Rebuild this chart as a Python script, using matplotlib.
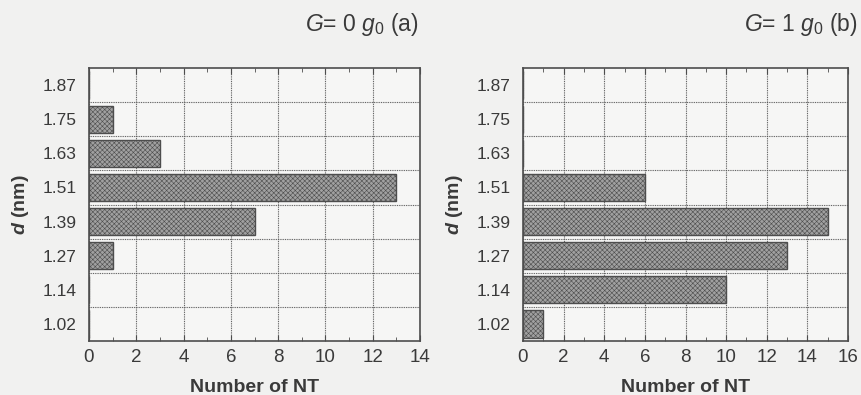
import numpy as np
import matplotlib
matplotlib.use("Agg")
import matplotlib.pyplot as plt
from matplotlib.ticker import MultipleLocator, FixedLocator

plt.rcParams["font.family"] = ["Liberation Sans", "DejaVu Sans"]
plt.rcParams["mathtext.fontset"] = "custom"
plt.rcParams["mathtext.rm"] = "Liberation Sans"
plt.rcParams["mathtext.it"] = "Liberation Sans:italic"
plt.rcParams["mathtext.bf"] = "Liberation Sans:bold:italic"
plt.rcParams["hatch.linewidth"] = 0.4
plt.rcParams["hatch.color"] = "#959595"

# diameter classes (nm), bottom to top
diameters = ["1.02", "1.14", "1.27", "1.39", "1.51", "1.63", "1.75", "1.87"]
count_0g = [0, 0, 1, 7, 13, 3, 1, 0]
count_1g = [1, 10, 13, 15, 6, 0, 0, 0]

titles = [r"$G$= 0 $g_0$ (a)", r"$G$= 1 $g_0$ (b)"]
x_max = [14, 16]

BG = "#f1f1f0"
EDGE = "#4d4d4d"
TXT = "#3a3a3a"

fig = plt.figure(figsize=(8.61, 3.95), dpi=100, facecolor=BG)
ax_a = fig.add_axes([89 / 861, 1 - 341 / 395, 331 / 861, 273 / 395])
ax_b = fig.add_axes([523 / 861, 1 - 341 / 395, 325 / 861, 273 / 395])

for ax, counts, title, xm, title_x in zip(
    [ax_a, ax_b], [count_0g, count_1g], titles, x_max, [419 / 861, 858 / 861]
):
    ax.set_facecolor("#f6f6f5")
    y = np.arange(len(diameters))
    ax.barh(y, counts, height=0.8, color="#a0a0a0", edgecolor=EDGE,
            linewidth=1.0, hatch="xxxxxxx", zorder=3)

    ax.set_xlim(0, xm)
    ax.set_ylim(-0.5, len(diameters) - 0.5)
    ax.xaxis.set_major_locator(MultipleLocator(2))
    ax.xaxis.set_minor_locator(MultipleLocator(1))
    ax.set_yticks(y)
    ax.set_yticklabels(diameters)
    ax.yaxis.set_minor_locator(FixedLocator(np.arange(0.5, len(diameters) - 0.5, 1)))

    ax.grid(which="major", axis="x", linestyle=(0, (0.8, 0.8)), color="#555555", linewidth=0.8, zorder=1)
    ax.grid(which="minor", axis="y", linestyle=(0, (0.8, 0.8)), color="#555555", linewidth=0.8, zorder=1)

    ax.tick_params(axis="x", which="both", direction="in", top=True, colors=EDGE,
                   labelcolor=TXT, labelsize=13.5, pad=6)
    ax.tick_params(axis="x", which="major", length=4)
    ax.tick_params(axis="x", which="minor", length=3)
    ax.tick_params(axis="y", which="both", length=0, labelcolor=TXT, labelsize=12.5, pad=9)
    for s in ax.spines.values():
        s.set_color(EDGE)
        s.set_linewidth(1.2)

    ax.set_xlabel("Number of NT", fontsize=14, fontweight="bold", color=TXT, labelpad=9)
    ax.set_ylabel(r"$\mathbf{d}$ (nm)", fontsize=14, fontweight="bold", color=TXT, labelpad=8)

    fig.text(title_x, 1 - 25 / 395, title, ha="right", va="center", fontsize=16.5, color=TXT)

fig.savefig("out.png", dpi=100, facecolor=BG)
